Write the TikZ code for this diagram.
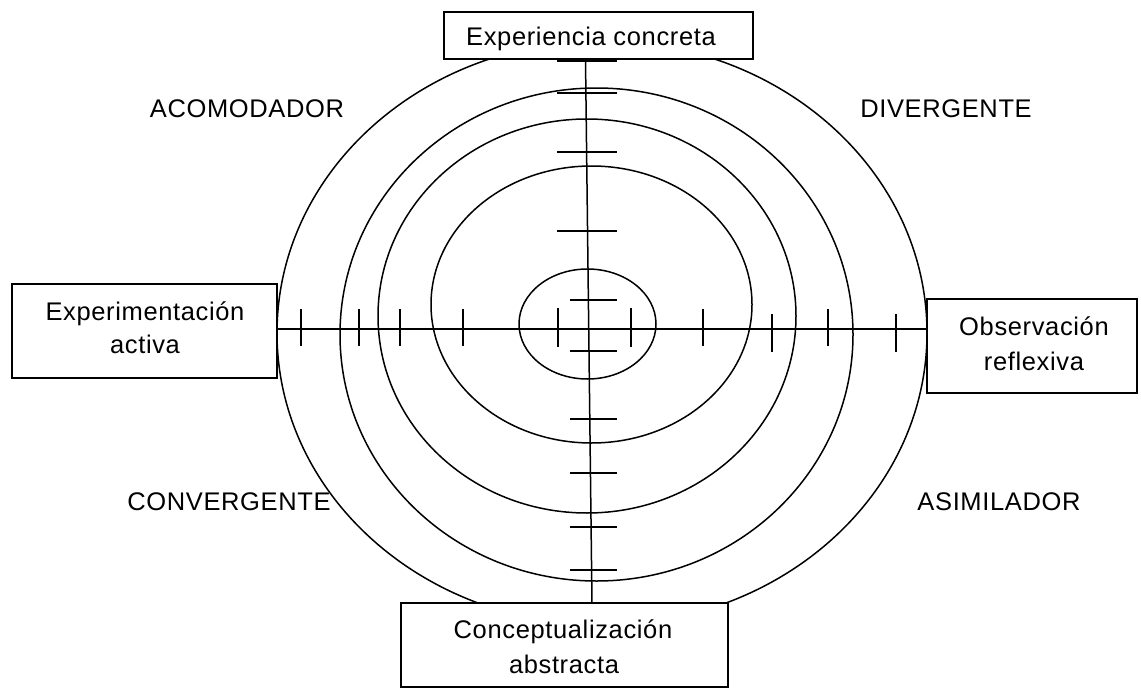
\documentclass[tikz,border=0pt]{standalone}
\usepackage{fontspec}
\setmainfont{Liberation Sans}[LetterSpace=2.5]
\usetikzlibrary{backgrounds}
\begin{document}
\begin{tikzpicture}[x=1pt,y=-1pt,
  every node/.style={font=\fontsize{25.5}{33}\selectfont},
  box/.style={draw, line width=1.5pt, fill=white, inner sep=0pt},
  lbl/.style={anchor=base, inner sep=0pt},
  ring/.style={line width=1.5pt},
  axis/.style={line width=1.5pt},
  tick/.style={line width=1.5pt}]
\useasboundingbox (0,0) rectangle (1141,688);
% boxes
\node[box, minimum width=309pt, minimum height=47pt] (T) at (598.5,35.5) {};
\node[box, minimum width=265pt, minimum height=94pt] (L) at (144.5,331) {};
\node[box, minimum width=210pt, minimum height=94pt] (R) at (1032,346) {};
\node[box, minimum width=327pt, minimum height=84pt] (B) at (564.5,645) {};
% box texts
\node[lbl] (Tt) at (591,45) {Experiencia concreta};
\node[lbl] (Lt1) at (145,320) {Experimentación};
\node[lbl] (Lt2) at (145,353) {activa};
\node[lbl] (Rt1) at (1034,335) {Observación};
\node[lbl] (Rt2) at (1034,370) {reflexiva};
\node[lbl] (Bt1) at (563,638) {Conceptualización};
\node[lbl] (Bt2) at (564,673) {abstracta};
% quadrant labels
\node[lbl] (acc) at (247,117) {ACOMODADOR};
\node[lbl] (div) at (946,117) {DIVERGENTE};
\node[lbl] (con) at (229,510) {CONVERGENTE};
\node[lbl] (asi) at (999,510) {ASIMILADOR};
\coordinate (c) at (588,329);
\coordinate (vt) at (585.5,59);
\coordinate (vb) at (592,603);
\begin{pgfonlayer}{background}
  \draw[ring] (602,333) ellipse [x radius=325pt, y radius=292pt];
  \draw[ring] (596.5,334.5) ellipse [x radius=256.5pt, y radius=246.5pt];
  \draw[ring] (587,316) ellipse [x radius=209pt, y radius=197pt];
  \draw[ring] (591.5,304.5) ellipse [x radius=160.5pt, y radius=138.5pt];
  \draw[ring] (587.5,324) ellipse [x radius=68.5pt, y radius=55pt];
  \draw[axis] (L.east |- c) -- (R.west |- c);
  \draw[axis] (vt) -- (vb);
  % ticks on the horizontal axis
  \foreach \x/\a/\b in {301/309/346, 359/309/346, 400/309/346, 463/309/346,
                        558/308/347, 631/308/347, 703/309/346, 772/314/352,
                        828/309/346, 896/314/352}
    \draw[tick] (\x,\a) -- (\x,\b);
  % ticks on the vertical axis
  \foreach \y/\a/\b in {61/557/617, 93/557/617, 152/557/617, 231/557/617,
                        300/570/617, 351/570/617, 419/570/617, 473/570/617,
                        527/570/617, 570/570/617}
    \draw[tick] (\a,\y) -- (\b,\y);
\end{pgfonlayer}
\end{tikzpicture}
\end{document}
